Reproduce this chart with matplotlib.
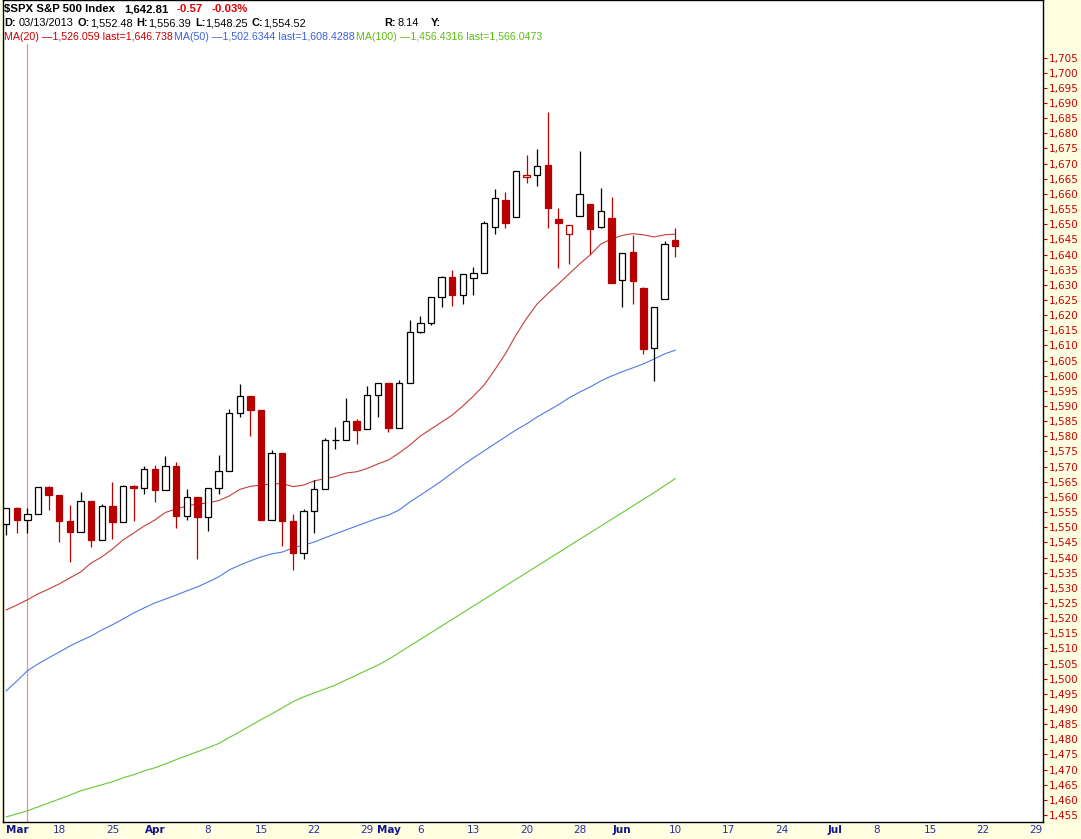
import numpy as np
import pandas as pd
import matplotlib
matplotlib.use('Agg')
import matplotlib.pyplot as plt

# trading calendar (market holidays removed)
cal = pd.bdate_range('2013-03-11', '2013-07-31')
cal = cal[~cal.isin(pd.to_datetime(['2013-03-29', '2013-05-27', '2013-07-04']))]

opens = [1551.15, 1556.22, 1552.48, 1554.52, 1563.21, 1560.70, 1552.10, 1548.34, 1558.71, 1545.90,
         1556.89, 1551.69, 1563.75, 1562.86, 1569.18, 1562.17, 1570.25, 1553.69, 1559.98, 1553.26,
         1563.11, 1568.61, 1587.73, 1593.30, 1588.84, 1552.36, 1574.57, 1552.03, 1541.61, 1555.25,
         1562.50, 1578.78, 1578.93, 1585.16, 1582.34, 1593.58, 1597.55, 1582.77, 1597.60, 1614.40,
         1617.55, 1625.95, 1632.69, 1626.69, 1632.10, 1633.75, 1649.13, 1658.07, 1652.45, 1665.71,
         1666.20, 1669.39, 1651.62, 1646.67, 1652.63, 1656.57, 1649.14, 1652.13, 1631.71, 1640.73,
         1629.05, 1609.29, 1625.27, 1644.67]
highs = [1556.27, 1556.77, 1556.39, 1563.32, 1563.62, 1560.70, 1557.25, 1561.56, 1558.71, 1557.74,
         1564.91, 1563.95, 1564.07, 1570.28, 1570.57, 1573.66, 1571.47, 1562.60, 1559.98, 1563.07,
         1573.89, 1589.07, 1597.35, 1593.30, 1588.84, 1575.35, 1574.57, 1554.38, 1555.89, 1565.55,
         1579.58, 1583.00, 1592.64, 1585.78, 1596.65, 1597.57, 1597.55, 1598.60, 1618.46, 1619.77,
         1626.03, 1632.78, 1635.01, 1633.70, 1636.00, 1651.10, 1661.49, 1660.51, 1667.47, 1672.84,
         1674.93, 1687.18, 1655.50, 1649.78, 1674.21, 1656.57, 1661.91, 1658.99, 1640.42, 1646.53,
         1629.31, 1622.56, 1644.40, 1648.69]
lows = [1547.36, 1548.24, 1548.25, 1554.52, 1555.74, 1545.13, 1538.57, 1548.34, 1543.55, 1545.90,
        1546.22, 1551.69, 1551.90, 1561.08, 1558.47, 1562.17, 1549.80, 1552.53, 1539.50, 1548.63,
        1560.92, 1568.61, 1586.48, 1579.97, 1552.28, 1552.36, 1543.69, 1536.03, 1539.40, 1548.19,
        1562.50, 1575.80, 1578.93, 1577.56, 1582.34, 1586.50, 1581.28, 1582.77, 1597.60, 1614.21,
        1616.64, 1622.70, 1623.09, 1623.71, 1626.74, 1633.75, 1646.68, 1648.60, 1652.45, 1663.52,
        1662.67, 1648.86, 1635.53, 1636.88, 1652.63, 1640.05, 1648.61, 1630.74, 1622.72, 1623.62,
        1607.09, 1598.23, 1625.27, 1639.26]
closes = [1556.22, 1552.48, 1554.52, 1563.23, 1560.70, 1552.10, 1548.34, 1558.71, 1545.80, 1556.89,
          1551.69, 1563.77, 1562.85, 1569.19, 1562.17, 1570.25, 1553.69, 1559.98, 1553.28, 1563.07,
          1568.61, 1587.73, 1593.37, 1588.85, 1552.36, 1574.57, 1552.01, 1541.61, 1555.25, 1562.50,
          1578.78, 1578.79, 1585.16, 1582.24, 1593.61, 1597.57, 1582.70, 1597.59, 1614.42, 1617.50,
          1625.96, 1632.69, 1626.67, 1633.70, 1633.77, 1650.34, 1658.78, 1650.47, 1667.47, 1666.29,
          1669.16, 1655.35, 1650.51, 1649.60, 1660.06, 1648.36, 1654.41, 1630.74, 1640.42, 1631.38,
          1608.90, 1622.56, 1643.38, 1642.81]

ma20 = [1522.7, 1524.3, 1526.06, 1528.0, 1529.6, 1531.3, 1533.3, 1535.2, 1538.2, 1540.2,
        1542.8, 1545.8, 1548.1, 1550.4, 1552.4, 1554.9, 1556.0, 1557.0, 1557.7, 1558.0,
        1558.8, 1560.3, 1562.5, 1563.5, 1563.9, 1564.3, 1564.4, 1563.4, 1563.9, 1565.3,
        1566.0, 1566.7, 1567.9, 1568.3, 1569.4, 1570.9, 1572.2, 1574.5, 1577.1, 1580.1,
        1582.4, 1584.7, 1587.0, 1590.0, 1593.3, 1596.9, 1601.9, 1607.2, 1613.4, 1618.9,
        1623.7, 1627.1, 1630.3, 1633.6, 1636.9, 1639.9, 1643.5, 1645.1, 1646.3, 1646.9,
        1646.5, 1645.8, 1646.5, 1646.74]
ma50 = [1496.0, 1499.2, 1502.63, 1504.9, 1506.9, 1508.8, 1510.8, 1512.5, 1514.1, 1516.1,
        1517.8, 1519.7, 1521.7, 1523.4, 1525.0, 1526.3, 1527.6, 1529.0, 1530.3, 1531.9,
        1533.6, 1535.9, 1537.5, 1538.9, 1540.2, 1541.2, 1541.8, 1543.2, 1544.1, 1545.1,
        1546.5, 1547.8, 1549.1, 1550.4, 1551.7, 1553.0, 1554.0, 1555.7, 1558.3, 1560.6,
        1562.9, 1565.3, 1567.9, 1570.5, 1572.9, 1575.2, 1577.5, 1579.8, 1582.1, 1584.1,
        1586.4, 1588.4, 1590.4, 1592.7, 1594.6, 1596.3, 1598.3, 1599.9, 1601.3, 1602.6,
        1603.9, 1605.5, 1607.2, 1608.43]
ma100 = [1454.4, 1455.4, 1456.43, 1457.7, 1459.0, 1460.3, 1461.6, 1463.0, 1464.0, 1465.0,
         1466.0, 1467.3, 1468.3, 1469.6, 1470.6, 1471.9, 1473.3, 1474.6, 1475.9, 1477.2,
         1478.6, 1480.6, 1482.5, 1484.5, 1486.5, 1488.4, 1490.4, 1492.4, 1494.0, 1495.3,
         1496.6, 1497.9, 1499.6, 1501.2, 1502.9, 1504.5, 1506.4, 1508.6, 1510.8, 1513.0,
         1515.2, 1517.4, 1519.6, 1521.8, 1524.0, 1526.2, 1528.4, 1530.6, 1532.8, 1535.0,
         1537.2, 1539.4, 1541.6, 1543.8, 1546.0, 1548.2, 1550.4, 1552.6, 1554.8, 1557.0,
         1559.2, 1561.4, 1563.7, 1566.05]

tick_dates = ['2013-03-11', '2013-03-18', '2013-03-25', '2013-04-01', '2013-04-08', '2013-04-15',
              '2013-04-22', '2013-04-29', '2013-05-01', '2013-05-06', '2013-05-13', '2013-05-20',
              '2013-05-28', '2013-06-03', '2013-06-10', '2013-06-17', '2013-06-24', '2013-07-01',
              '2013-07-08', '2013-07-15', '2013-07-22', '2013-07-29']
tick_labels = ['Mar', '18', '25', 'Apr', '8', '15', '22', '29', 'May', '6', '13', '20', '28',
               'Jun', '10', '17', '24', 'Jul', '8', '15', '22', '29']

RED = '#B80000'
W, H = 1081, 839
HFONT = ['Liberation Sans', 'DejaVu Sans']

fig = plt.figure(figsize=(W / 100, H / 100), dpi=100, facecolor='#FFFFE2')
ax = fig.add_axes([3 / W, 17 / H, 1040 / W, 822 / H])
ax.set_facecolor('white')

n = len(closes)
x = np.arange(n)
o, h, l, c = map(np.array, (opens, highs, lows, closes))
prev = np.r_[c[0] - 1, c[:-1]]
col = np.where(c < prev, RED, 'black')
fill = np.where(c >= o, 'white', col)

ax.vlines(x, l, h, colors=col, linewidth=0.9, zorder=2)
ax.bar(x, np.maximum(np.abs(c - o), 0.05), bottom=np.minimum(o, c), width=0.6,
       color=fill, edgecolor=col, linewidth=0.9, zorder=3)

ax.plot(x, ma20, color='#C83C3C', lw=0.8, zorder=1)
ax.plot(x, ma50, color='#4F7BE6', lw=0.8, zorder=1)
ax.plot(x, ma100, color='#66C933', lw=0.8, zorder=1)

# cursor line on 03/13
ax.plot([2, 2], [1450, 1709.5], color='#F29090', lw=0.9, zorder=0)

ax.set_xlim(-0.30, 97.63)
ax.set_ylim(1452.72, 1724.0)

tpos = [cal.get_loc(pd.Timestamp(d)) for d in tick_dates]
ax.set_xticks(tpos)
ax.set_xticklabels(tick_labels, fontsize=7.5)
ax.tick_params(axis='x', length=0, pad=2.5)
for t in ax.get_xticklabels():
    if t.get_text().isalpha():
        t.set_fontweight('bold')
        t.set_color('#14148A')
    else:
        t.set_color('#2A2AA6')
    if t.get_text() == 'Mar':
        t.set_horizontalalignment('left')

yt = np.arange(1455, 1706, 5)
ax.yaxis.tick_right()
ax.set_yticks(yt)
ax.set_yticklabels([f'{v:,}' for v in yt], fontsize=7.5, color='#CC0000')
ax.tick_params(axis='y', length=3, width=0.8, color='#CC0000', pad=1)
for s in ax.spines.values():
    s.set_linewidth(1.0)

renderer = fig.canvas.get_renderer()

def row(py, start, pieces, size):
    # pieces: (text, weight, color, gap before in px); placed one after another
    px = start
    for s, wt, colr, gap in pieces:
        px += gap
        t = fig.text(px / W, 1 - py / H, s, va='center', ha='left', family=HFONT,
                     fontsize=size, fontweight=wt, color=colr)
        px = t.get_window_extent(renderer).x1

row(9, 4, [('$SPX S&P 500 Index', 'bold', 'black', 0),
           ('1,642.81', 'bold', 'black', 9),
           ('-0.57', 'bold', '#E00000', 8),
           ('-0.03%', 'bold', '#E00000', 9)], 8.2)

row(23, 4, [('D:', 'bold', 'black', 0), ('03/13/2013', 'normal', 'black', 3),
            ('O:', 'bold', 'black', 4), ('1,552.48', 'normal', 'black', 0),
            ('H:', 'bold', 'black', 4), ('1,556.39', 'normal', 'black', 0),
            ('L:', 'bold', 'black', 4), ('1,548.25', 'normal', 'black', 0),
            ('C:', 'bold', 'black', 4), ('1,554.52', 'normal', 'black', 0)], 7.9)
row(23, 384, [('R:', 'bold', 'black', 0), ('8.14', 'normal', 'black', 2)], 7.9)
row(23, 431, [('Y:', 'bold', 'black', 0)], 7.9)

row(37, 4, [('MA(20) \u20141,526.059 last=1,646.738', 'normal', '#CC0000', 0),
            ('MA(50) \u20141,502.6344 last=1,608.4288', 'normal', '#3B62DB', 1),
            ('MA(100) \u20141,456.4316 last=1,566.0473', 'normal', '#5CBF10', 1)], 7.7)

fig.savefig('out.png', dpi=100, facecolor=fig.get_facecolor())
